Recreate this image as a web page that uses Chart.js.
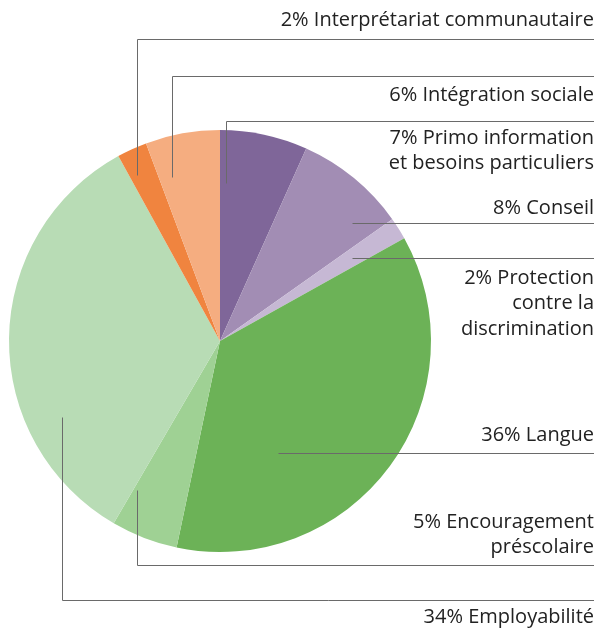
<!DOCTYPE html>
<html>
<head>
<meta charset="utf-8">
<script src="https://cdn.jsdelivr.net/npm/chart.js@4"></script>
<style>
  html, body { margin: 0; padding: 0; background: #fff; }
  canvas { display: block; }
</style>
</head>
<body>
<canvas id="pieChart" width="598" height="633"></canvas>
<script>
// categories, clockwise from 12 o'clock
const categories = [
  "Primo information et besoins particuliers",
  "Conseil",
  "Protection contre la discrimination",
  "Langue",
  "Encouragement préscolaire",
  "Employabilité",
  "Interprétariat communautaire",
  "Intégration sociale",
];
// shares (rounded ones are printed in the labels)
const shares = [6.7, 8.5, 1.7, 36.4, 5.1, 33.6, 2.3, 5.7];
const labelLines = [
  ["7% Primo information", "et besoins particuliers"],
  ["8% Conseil"],
  ["2% Protection", "contre la", "discrimination"],
  ["36% Langue"],
  ["5% Encouragement", "préscolaire"],
  ["34% Employabilité"],
  ["2% Interprétariat communautaire"],
  ["6% Intégration sociale"],
];

const sliceColors = [
  "#7f6699", "#a28db4", "#c6b8d4", "#6cb257",
  "#9fd194", "#b8dcb5", "#f0843f", "#f5ad80",
];

// where each leader line starts inside its slice (f = fraction of the slice angle,
// r = fraction of the radius), where it bends, and where its text sits
const leaders = [
  { f: 0.09, r: 0.75, elbowY: 121, textY: 138 },
  { f: 0.79, r: 0.84, elbowY: null, textY: 208 },
  { f: 0.51, r: 0.74, elbowY: null, textY: 278 },
  { f: 0.70, r: 0.60, elbowY: null, textY: 435 },
  { f: 0.94, r: 0.81, elbowY: 565, textY: 522 },
  { f: 0.28, r: 0.83, elbowY: 600, textY: 617 },
  { f: 0.29, r: 0.88, elbowY: 39, textY: 20 },
  { f: 0.20, r: 0.81, elbowY: 76, textY: 95 },
];

const RIGHT_X = 594;
const LINE_H = 25.5;

const leaderPlugin = {
  id: "leaders",
  afterDatasetsDraw(chart) {
    const ctx = chart.ctx;
    const arcs = chart.getDatasetMeta(0).data;
    ctx.save();
    ctx.strokeStyle = "#6a6a6a";
    ctx.lineWidth = 1;
    arcs.forEach((arc, i) => {
      const L = leaders[i];
      const a = arc.startAngle + L.f * (arc.endAngle - arc.startAngle);
      const ax = Math.round(arc.x + Math.cos(a) * L.r * arc.outerRadius) + 0.5;
      const ay = Math.round(arc.y + Math.sin(a) * L.r * arc.outerRadius) + 0.5;
      ctx.beginPath();
      ctx.moveTo(ax, ay);
      if (L.elbowY !== null) {
        const ey = Math.round(L.elbowY) + 0.5;
        ctx.lineTo(ax, ey);
        ctx.lineTo(RIGHT_X, ey);
      } else {
        ctx.lineTo(RIGHT_X, ay);
      }
      ctx.stroke();
    });

    ctx.fillStyle = "#222";
    ctx.font = "20px 'Open Sans', sans-serif";
    ctx.textAlign = "right";
    ctx.textBaseline = "middle";
    labelLines.forEach((lines, i) => {
      lines.forEach((t, k) => {
        ctx.fillText(t, RIGHT_X, leaders[i].textY + k * LINE_H);
      });
    });
    ctx.restore();
  },
};

new Chart(document.getElementById("pieChart").getContext("2d"), {
  type: "pie",
  data: {
    labels: categories,
    datasets: [
      {
        data: shares,
        backgroundColor: sliceColors,
        borderWidth: 0,
        hoverOffset: 0,
      },
    ],
  },
  options: {
    responsive: false,
    animation: false,
    layout: {
      padding: { left: 9, right: 167, top: 130, bottom: 81 },
    },
    plugins: {
      legend: { display: false },
      tooltip: { enabled: false },
    },
  },
  plugins: [leaderPlugin],
});
</script>
</body>
</html>
